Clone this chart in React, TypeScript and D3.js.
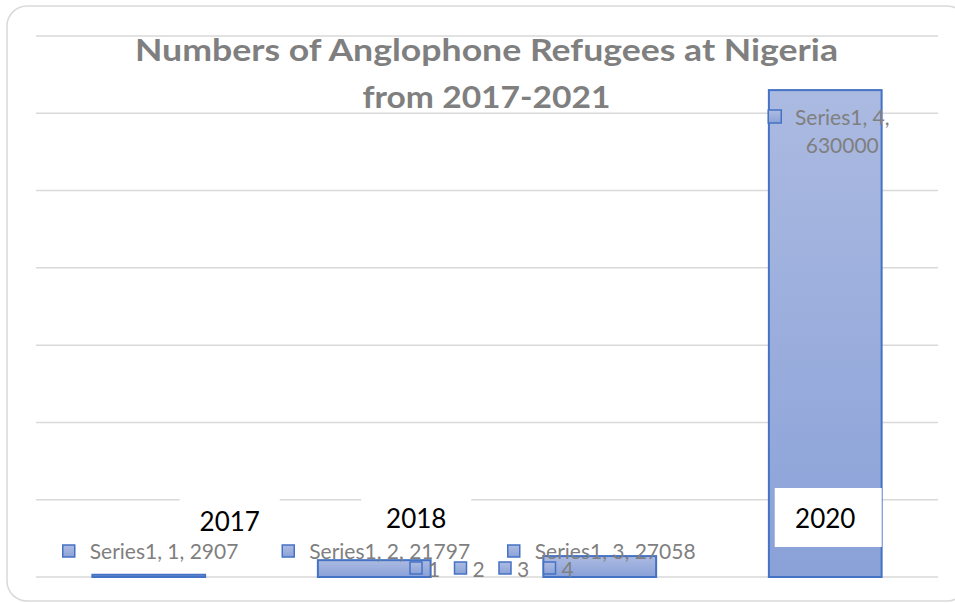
import React from "react";
import * as d3 from "d3";

const categories = ["1", "2", "3", "4"];
const values = [2907, 21797, 27058, 630000];
const seriesName = "Series1";
const yearLabels = ["2017", "2018", "", "2020"];
const titleLines = ["Numbers of Anglophone Refugees at Nigeria", "from 2017-2021"];
const yTicks = [0, 100000, 200000, 300000, 400000, 500000, 600000, 700000];

const W = 955;
const H = 603;
const FONT = "Lato, 'Open Sans', 'Noto Sans', sans-serif";

export default function App() {
  const x = d3.scaleBand<string>().domain(categories).range([36, 938]).paddingInner(0.5).paddingOuter(0.25);
  const y = d3.scaleLinear().domain([0, 700000]).range([577, 36]);
  const bw = x.bandwidth();
  const cx = (c: string) => (x(c) as number) + bw / 2;

  // label offsets relative to band centers (as laid out in the original)
  const yearDx = [81, 42, 0, 0];
  const yearDy = [531, 528, 0, 528];
  const yearBoxW = [100, 110, 0, 107];

  const lblDx = [-86, -92, -92];

  return (
    <svg width={W} height={H} style={{ position: "absolute", left: 0, top: 0, background: "#fff" }} fontFamily={FONT}>
      <defs>
        <linearGradient id="barGrad" x1="0" y1="0" x2="0" y2="1">
          <stop offset="0%" stopColor="#abbae1" />
          <stop offset="100%" stopColor="#8aa1d8" />
        </linearGradient>
        <linearGradient id="mkGrad" x1="0" y1="0" x2="0" y2="1">
          <stop offset="0%" stopColor="#aebce2" />
          <stop offset="100%" stopColor="#8ba2d8" />
        </linearGradient>
      </defs>
      <rect x={7} y={6} width={960} height={595} rx={20} ry={20} fill="#fff" stroke="#d9d9d9" strokeWidth={1.5} />

      {yTicks.map((t) => (
        <line key={t} x1={36} x2={938} y1={y(t)} y2={y(t)} stroke="#d9d9d9" strokeWidth={1.5} />
      ))}

      {categories.map((c, i) => (
        <rect
          key={c}
          x={x(c)}
          y={y(values[i])}
          width={bw}
          height={Math.max(0, y(0) - y(values[i]))}
          fill="url(#barGrad)"
          stroke="#4472c4"
          strokeWidth={2}
        />
      ))}

      {categories.map((c, i) =>
        yearLabels[i] ? (
          <g key={"yl" + c}>
            <rect
              x={cx(c) + yearDx[i] - yearBoxW[i] / 2 + (i === 3 ? 3 : 0)}
              y={488}
              width={yearBoxW[i]}
              height={59}
              fill="#fff"
            />
            <text x={cx(c) + yearDx[i]} y={yearDy[i]} textAnchor="middle" fontSize={26} fill="#000">
              {yearLabels[i]}
            </text>
          </g>
        ) : null
      )}

      {titleLines.map((t, i) => (
        <text
          key={t}
          x={486.5}
          y={i === 0 ? 61 : 108}
          textAnchor="middle"
          fontSize={30}
          fontWeight="bold"
          fill="#7f7f7f"
          textLength={i === 0 ? 703 : 248}
          lengthAdjust="spacingAndGlyphs"
        >
          {t}
        </text>
      ))}

      {categories.slice(0, 3).map((c, i) => (
        <g key={"dl" + c}>
          <rect x={cx(c) + lblDx[i]} y={545} width={12} height={12} fill="url(#mkGrad)" stroke="#4472c4" strokeWidth={1.5} />
          <text x={cx(c) + lblDx[i] + 27} y={559} fontSize={21} fill="#7f7f7f">
            {`${seriesName}, ${c}, ${values[i]}`}
          </text>
        </g>
      ))}

      <g>
        <rect x={cx("4") - 57} y={110} width={13} height={13} fill="url(#mkGrad)" stroke="#4472c4" strokeWidth={1.5} />
        <text x={cx("4") + 17} y={125} textAnchor="middle" fontSize={21} fill="#7f7f7f">
          {`${seriesName}, 4,`}
        </text>
        <text x={cx("4") + 17} y={153} textAnchor="middle" fontSize={21} fill="#7f7f7f">
          {`${values[3]}`}
        </text>
      </g>

      {categories.map((c, i) => {
        const lx = 410 + i * 44.5;
        return (
          <g key={"lg" + c}>
            <rect x={lx} y={562} width={12} height={12} fill="url(#mkGrad)" stroke="#4472c4" strokeWidth={1.5} />
            <text x={lx + 18} y={577} fontSize={21} fill="#7f7f7f">
              {c}
            </text>
          </g>
        );
      })}
    </svg>
  );
}
